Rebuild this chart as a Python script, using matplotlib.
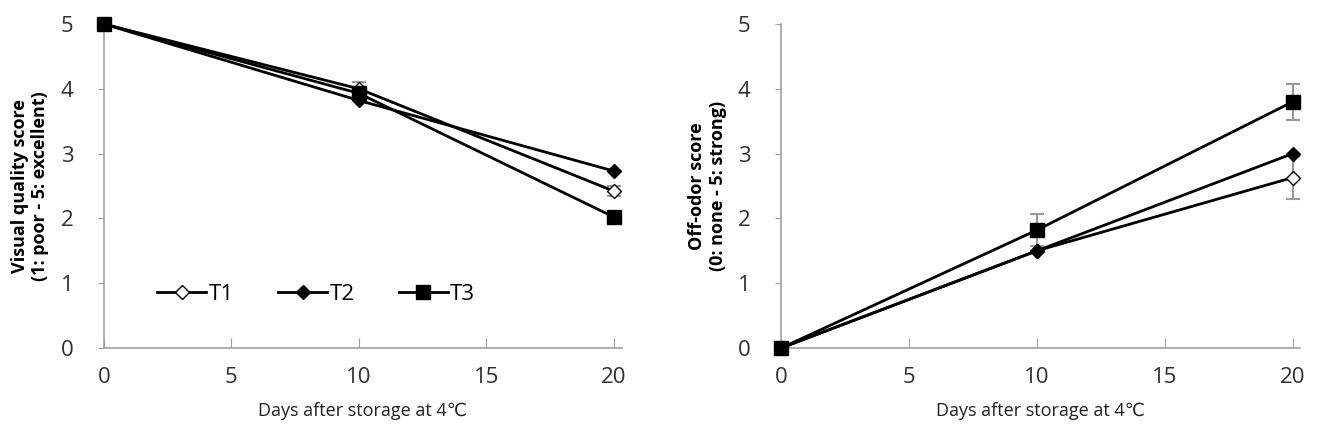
import matplotlib
matplotlib.use("Agg")
import matplotlib.pyplot as plt

plt.rcParams['font.family'] = ['Open Sans', 'DejaVu Sans']

days = [0, 10, 20]
labels = ["T1", "T2", "T3"]

# visual quality (1: poor - 5: excellent)
vq_t1 = [5.0, 4.00, 2.42]
vq_t2 = [5.0, 3.82, 2.73]
vq_t3 = [5.0, 3.93, 2.02]
vq_t1_err = [0.0, 0.10, 0.08]
vq_t2_err = [0.0, 0.0, 0.0]
vq_t3_err = [0.0, 0.0, 0.0]

# off-odor (0: none - 5: strong)
od_t1 = [0.0, 1.50, 2.63]
od_t2 = [0.0, 1.50, 3.00]
od_t3 = [0.0, 1.82, 3.80]
od_t1_err = [0.0, 0.0, 0.33]
od_t2_err = [0.0, 0.0, 0.0]
od_t3_err = [0.0, 0.25, 0.28]

styles = [dict(marker='D', markerfacecolor='white', markeredgecolor='black', markersize=7),
          dict(marker='D', markerfacecolor='black', markeredgecolor='black', markersize=7),
          dict(marker='s', markerfacecolor='black', markeredgecolor='black', markersize=10)]

fig = plt.figure(figsize=(13.31, 4.29), dpi=100)
ax1 = fig.add_axes([0.078, 0.189, 0.389, 0.755])
ax2 = fig.add_axes([0.587, 0.189, 0.390, 0.755])

def draw(ax, series, errs, ylab):
	handles = []
	for ys, es, st, lab in zip(series, errs, styles, labels):
		xs = [d for d, e in zip(days, es) if e > 0]
		yv = [y for y, e in zip(ys, es) if e > 0]
		ev = [e for e in es if e > 0]
		if xs:
			ax.errorbar(xs, yv, yerr=ev, fmt='none', ecolor='#999999', elinewidth=1.5,
				capsize=5, capthick=1.5, zorder=2, clip_on=False)
		h, = ax.plot(days, ys, color='black', linewidth=2, label=lab, zorder=3,
			clip_on=False, **st)
		handles.append(h)
	ax.set_xlim(0, 20.3)
	ax.set_ylim(0, 5)
	ax.set_xticks([0, 5, 10, 15, 20])
	ax.set_yticks([0, 1, 2, 3, 4, 5])
	for s in ['top', 'right']:
		ax.spines[s].set_visible(False)
	for s in ['left', 'bottom']:
		ax.spines[s].set_color('#a0a0a0')
		ax.spines[s].set_linewidth(1.2)
	ax.tick_params(axis='x', direction='in', length=7, color='#a0a0a0', pad=14, labelsize=16)
	ax.tick_params(axis='y', direction='out', length=4, color='#a0a0a0', pad=18, labelsize=16)
	ax.set_xlabel("Days after storage at 4\u2103", fontsize=13, labelpad=10, color='#202020')
	ax.set_ylabel(ylab, fontsize=13, fontweight='bold', labelpad=8)
	for lab in ax.get_xticklabels() + ax.get_yticklabels():
		lab.set_color('#303030')
	return handles

h = draw(ax1, [vq_t1, vq_t2, vq_t3], [vq_t1_err, vq_t2_err, vq_t3_err],
	"Visual quality score\n(1: poor - 5: excellent)")
draw(ax2, [od_t1, od_t2, od_t3], [od_t1_err, od_t2_err, od_t3_err],
	"Off-odor score\n(0: none - 5: strong)")

ax1.legend(handles=h, loc='center left', bbox_to_anchor=(0.065, 0.165), ncol=3, frameon=False,
	fontsize=16, handlelength=2.2, handletextpad=0.1, columnspacing=2.0)

fig.savefig("out.png", dpi=100)
